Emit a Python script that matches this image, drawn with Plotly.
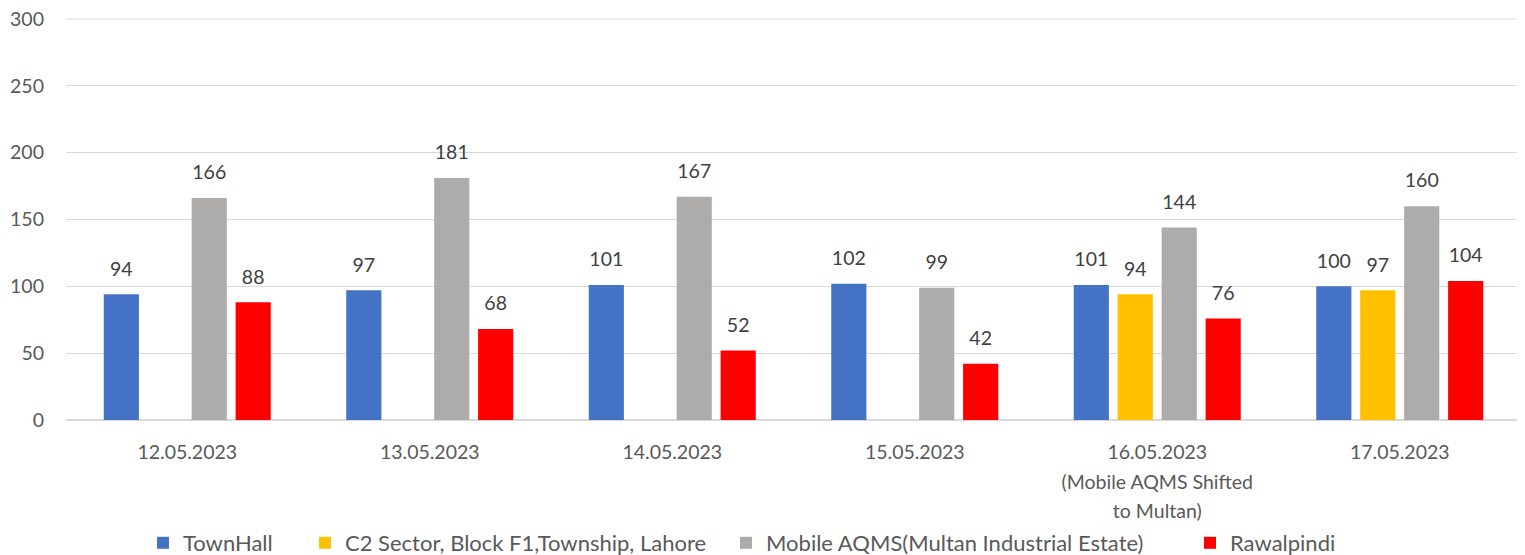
import plotly.graph_objects as go

categories = ["12.05.2023", "13.05.2023", "14.05.2023", "15.05.2023",
              "16.05.2023<br>(Mobile AQMS Shifted<br>to Multan)", "17.05.2023"]
townhall = [94, 97, 101, 102, 101, 100]
c2_sector = [None, None, None, None, 94, 97]
mobile_aqms = [166, 181, 167, 99, 144, 160]
rawalpindi = [88, 68, 52, 42, 76, 104]

series = [
    ("TownHall", townhall, "#4472C4", "legend"),
    ("C2 Sector, Block F1,Township, Lahore", c2_sector, "#FFC000", "legend2"),
    ("Mobile AQMS(Multan Industrial Estate)", mobile_aqms, "#AEABAB", "legend3"),
    ("Rawalpindi", rawalpindi, "#FF0000", "legend4"),
]

FONT = "Lato"
TS = 19.5


def sized(s, px):
    return "<br>".join(f"<span style='font-size:{px}px'>{ln}</span>" for ln in s.split("<br>"))


tick_text = [sized(c, TS) for c in categories]

fig = go.Figure()
for name, vals, color, lg in series:
    fig.add_trace(go.Bar(
        name=name, x=categories, y=vals, marker_color=color,
        marker_line_width=0,
        text=[sized(str(v), TS) if v is not None else "" for v in vals],
        texttemplate="%{text}<br>&nbsp;",
        textposition="outside", cliponaxis=False,
        textfont=dict(family=FONT, size=10.5, color="#404040"),
        legend=lg, showlegend=True,
    ))

# page body has an 8px offset; figure sized to fill the rest of the window
OFF = 8
W, H = 1525 - OFF, 555 - OFF
pl, pr, pt, pb = 58, 4, 11, 135
pw = W - pl - pr
ph = H - pt - pb


def lx(px):
    return (px - OFF - 15 - pl) / pw


legend_common = dict(orientation="h", yanchor="middle", y=-123 / ph, xanchor="left",
                     font=dict(family=FONT, size=22, color="#595959"),
                     bgcolor="rgba(0,0,0,0)", visible=True)
fig.update_layout(
    width=W, height=H,
    margin=dict(l=pl, r=pr, t=pt, b=pb, autoexpand=False),
    paper_bgcolor="white", plot_bgcolor="white",
    barmode="group", bargap=0.275, bargroupgap=0.2,
    showlegend=True,
    font=dict(family=FONT, size=TS, color="#595959"),
    legend=dict(legend_common, x=lx(158)),
    legend2=dict(legend_common, x=lx(320)),
    legend3=dict(legend_common, x=lx(741)),
    legend4=dict(legend_common, x=lx(1205)),
    yaxis=dict(range=[0, 300], dtick=50, showgrid=True, gridcolor="#D9D9D9",
               gridwidth=1, zeroline=True, zerolinecolor="#D9D9D9",
               showline=False, ticks="", ticklabelstandoff=21, automargin=False,
               ticklabeloverflow="allow",
               tickfont=dict(family=FONT, size=TS, color="#595959")),
    xaxis=dict(showgrid=False, showline=True, linecolor="#D9D9D9", ticks="",
               ticklabelstandoff=11, automargin=False,
               tickmode="array", tickvals=categories, ticktext=tick_text,
               tickfont=dict(family=FONT, size=22.7, color="#595959")),
    shapes=[
        dict(type="line", xref="paper", yref="paper", x0=1.0007, x1=1.0007,
             y0=-pb / ph, y1=1 + pt / ph, line=dict(color="#D9D9D9", width=1.5)),
        dict(type="line", xref="paper", yref="paper", x0=0, x1=1,
             y0=1, y1=1, line=dict(color="#D9D9D9", width=1)),
    ],
)

fig.write_html("out.html")
